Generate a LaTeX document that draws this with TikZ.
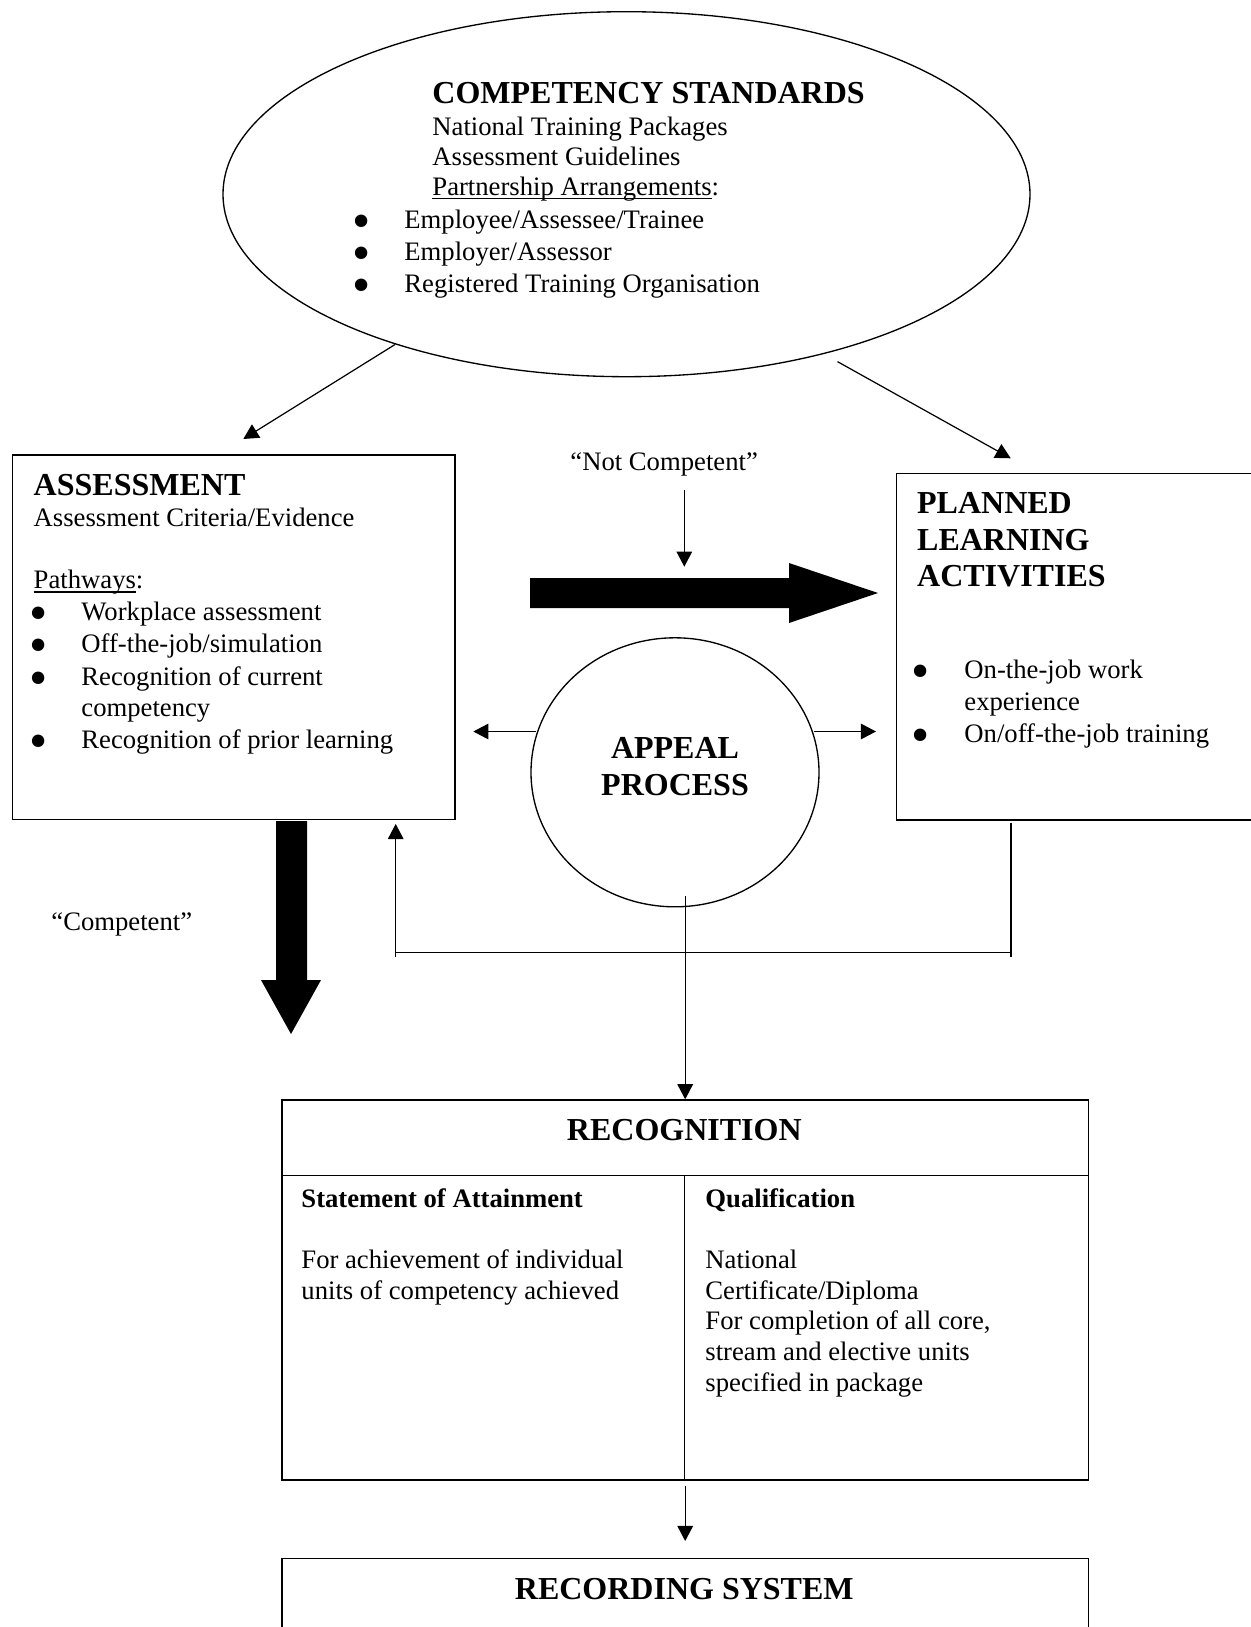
\documentclass[tikz,border=0pt]{standalone}
\usepackage{fontspec}
\usepackage{graphicx}
\setmainfont{Liberation Serif}
\usetikzlibrary{positioning,arrows.meta,shapes.geometric}

\def\pxu{0.45pt}
\newcommand{\undl}[1]{\setbox0\hbox{#1}\rlap{\rule[-2pt]{\wd0}{0.6pt}}\box0}
\newcommand{\bigbul}{\smash{\raisebox{-4.5pt}{\scalebox{1.95}{•}}}}

\begin{document}
\begin{tikzpicture}[x=0.45pt, y=-0.45pt,
    txt/.style={anchor=base west, inner sep=0pt, font=\fontsize{12pt}{14pt}\selectfont},
    ttl/.style={txt, font=\fontsize{14.4pt}{16pt}\selectfont\bfseries},
    bul/.style={anchor=base, inner sep=0pt, font=\fontsize{12pt}{14pt}\selectfont},
    box/.style={draw, line width=0.75pt, anchor=north west, inner sep=0pt},
    oval/.style={draw, ellipse, line width=0.6pt, inner sep=0pt},
    ln/.style={line width=0.55pt},
    arr/.style={ln, -{Triangle[length=6.8pt,width=7pt]}}]
    \useasboundingbox (0,0) rectangle (1251,1627);

    % the frames
    \node[oval, minimum width=807*\pxu, minimum height=365*\pxu] (cs) at (626.5,194.2) {};
    \node[box, minimum width=442.3*\pxu, minimum height=364.7*\pxu] (asmt) at (11.7,454) {};
    \node[box, minimum width=404*\pxu, minimum height=346.3*\pxu] (pla) at (895.7,472.7) {};
    \node[oval, minimum width=288*\pxu, minimum height=269*\pxu] (ap) at (675,772.3) {};
    \node[box, minimum width=806.7*\pxu, minimum height=380*\pxu] (recg) at (281,1099.3) {};
    \node[box, minimum width=806.7*\pxu, minimum height=160*\pxu] (recd) at (281,1557.7) {};

    % competency standards
    \node[ttl] (csT) at (432,103) {COMPETENCY STANDARDS};
    \node[txt] (cs1) at (432,135) {National Training Packages};
    \node[txt] (cs2) at (432,165) {Assessment Guidelines};
    \node[txt] (cs3) at (432,195) {\undl{Partnership Arrangements}:};
    \node[bul] (csb1) at (362,228.3) {\bigbul};
    \node[bul] (csb2) at (362,260) {\bigbul};
    \node[bul] (csb3) at (362,292.7) {\bigbul};
    \node[txt] (cs4) at (404,228.3) {Employee/Assessee/Trainee};
    \node[txt] (cs5) at (404,260) {Employer/Assessor};
    \node[txt] (cs6) at (404,292.7) {Registered Training Organisation};

    % assessment
    \node[ttl] (asT) at (33.3,495) {ASSESSMENT};
    \node[txt] (as1) at (33.3,526) {Assessment Criteria/Evidence};
    \node[txt] (as2) at (33.3,588.3) {\undl{Pathways}:};
    \node[bul] (asb1) at (39,620) {\bigbul};
    \node[bul] (asb2) at (39,652.7) {\bigbul};
    \node[bul] (asb3) at (39,685) {\bigbul};
    \node[bul] (asb4) at (39,748.3) {\bigbul};
    \node[txt] (as3) at (81,620) {Workplace assessment};
    \node[txt] (as4) at (81,652.7) {Off-the-job/simulation};
    \node[txt] (as5) at (81,685) {Recognition of current};
    \node[txt] (as6) at (81,716.5) {competency};
    \node[txt] (as7) at (81,748.3) {Recognition of prior learning};

    % planned learning activities
    \node[ttl] (plT1) at (916.7,513.5) {PLANNED};
    \node[ttl] (plT2) at (916.7,550) {LEARNING};
    \node[ttl] (plT3) at (916.7,586.5) {ACTIVITIES};
    \node[bul] (plb1) at (921,678) {\bigbul};
    \node[bul] (plb2) at (921,742.5) {\bigbul};
    \node[txt] (pl1) at (964,678) {On-the-job work};
    \node[txt] (pl2) at (964,710) {experience};
    \node[txt] (pl3) at (964,742.5) {On/off-the-job training};

    % appeal
    \node[ttl, anchor=base] (apT1) at (675,758) {APPEAL};
    \node[ttl, anchor=base] (apT2) at (675,795) {PROCESS};

    % outcome labels
    \node[txt] (nc) at (570,470) {“Not Competent”};
    \node[txt] (cp) at (51,930) {“Competent”};

    % recognition
    \node[ttl, anchor=base] (rgT) at (684.3,1140) {RECOGNITION};
    \node[txt, font=\fontsize{12pt}{14pt}\selectfont\bfseries] (rgL) at (301,1207.7) {Statement of Attainment};
    \node[txt, font=\fontsize{12pt}{14pt}\selectfont\bfseries] (rgR) at (705,1207.7) {Qualification};
    \node[txt] (rgL1) at (301,1268.3) {For achievement of individual};
    \node[txt] (rgL2) at (301,1299.3) {units of competency achieved};
    \node[txt] (rgR1) at (705,1268.3) {National};
    \node[txt] (rgR2) at (705,1299.3) {Certificate/Diploma};
    \node[txt] (rgR3) at (705,1329.3) {For completion of all core,};
    \node[txt] (rgR4) at (705,1360) {stream and elective units};
    \node[txt] (rgR5) at (705,1391) {specified in package};
    \coordinate (hd) at (684.3,1175.7);
    \draw[ln] (recg.west |- hd) -- (recg.east |- hd);
    \draw[ln] (hd) -- (recg.south -| hd);

    % recording
    \node[ttl, anchor=base] (rdT) at (684.3,1599.5) {RECORDING SYSTEM};

    % connectors
    \coordinate (toA) at (243.3,439);
    \coordinate (toP) at (1010.7,458.3);
    \draw[arr] (cs.213) -- (toA);
    \draw[arr, shorten <=7pt] (cs.321) -- (toP);

    \coordinate (ncEnd) at (684.3,566.7);
    \draw[arr, shorten <=6.3pt] (nc.south -| ncEnd) -- (ncEnd);

    \coordinate (toAL) at (473.3,731.5);
    \coordinate (toPL) at (876,731.5);
    \draw[arr] (ap.west |- toAL) ++(2.6pt,0) -- (toAL);
    \draw[arr] (ap.east |- toPL) ++(-2.6pt,0) -- (toPL);

    % feedback loop
    \coordinate (loopL) at (395.7,957);
    \coordinate (loopR) at (1011,957);
    \draw[ln] ([yshift=-0.9pt]pla.south -| loopR) -- (loopR);
    \draw[ln] ([yshift=2.2pt]loopL) -- ([yshift=2.2pt]loopR);
    \draw[arr] (loopL) -- ([yshift=-1.6pt]asmt.south -| loopL);

    \draw[arr] ([yshift=5pt]ap.south -| recg.north) -- (recg.north);
    \draw[arr] ([yshift=-2.2pt]recg.south) -- ([yshift=7.5pt]recd.north);

    % block arrows
    \fill (530,578) -- (789,578) -- (789,563) -- (878,593) -- (789,623) -- (789,608) -- (530,608) -- cycle;
    \fill (276,821) -- (307,821) -- (307,980) -- (321,980) -- (291,1034) -- (261,980) -- (276,980) -- cycle;
\end{tikzpicture}
\end{document}
